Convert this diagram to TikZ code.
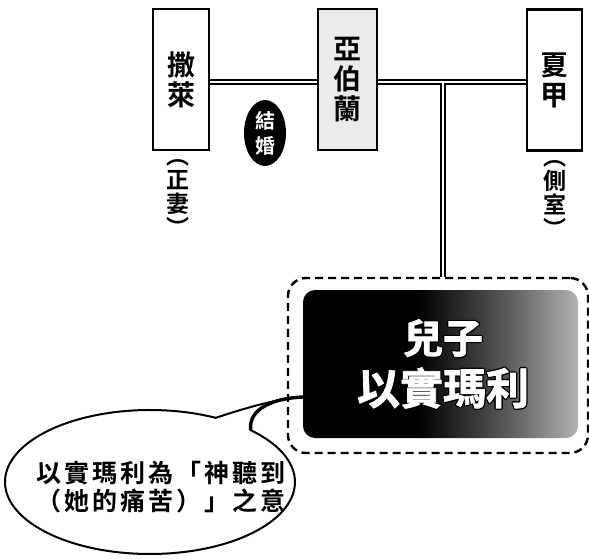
\documentclass[tikz,border=0pt]{standalone}
\usepackage{fontspec}
\setmainfont{Noto Sans CJK TC}[BoldFont={Noto Sans CJK TC Bold}]
\usetikzlibrary{shapes.geometric}
% white letters with a black rim
\newcommand\rimtext[1]{\rlap{\special{pdf:bcolor [0] [0]}\special{pdf:code 1 Tr 3.4 w 1 j}#1\special{pdf:code 0 Tr 1 w 0 j}\special{pdf:ecolor}}%
    \special{pdf:bcolor [1] [1]}\special{pdf:code 2 Tr 0.7 w}#1\special{pdf:code 0 Tr 1 w}\special{pdf:ecolor}}
\pgfdeclarehorizontalshading{sonshade}{100bp}{color(0bp)=(black); color(25bp)=(black); color(46bp)=(black); color(62bp)=(black!65); color(75bp)=(black!30); color(100bp)=(black!30)}
\begin{document}
\begin{tikzpicture}[x=1pt,y=1pt,
    person/.style={draw, line width=2.6pt, minimum height=141pt, align=center, inner sep=0pt,
        font=\bfseries\fontsize{28}{30}\selectfont},
    sidenote/.style={align=center, inner sep=0pt, font=\bfseries\fontsize{23}{24}\selectfont},
    sontext/.style={inner sep=0pt}]
    \useasboundingbox (0,0) rectangle (589,558);
    % speech bubble with its tail
    \coordinate (tip) at (303,161);
    \filldraw[fill=white, line width=2pt] (250.7,127.8) arc[start angle=46, end angle=-297, x radius=145, y radius=72]
        .. controls (245,150) and (280,160) .. (tip)
        .. controls (275,160) and (248,150) .. cycle;
    \draw[line width=3.4pt] (tip) .. controls (275,160) and (248,150) .. (250.7,127.8);
    \node[font=\bfseries\fontsize{25}{28}\selectfont\addfontfeatures{LetterSpace=12}, align=center] (meaning) at (161,71)
        {以實瑪利為「神聽到\\（她的痛苦）」之意};
    % the three people
    \node[person, minimum width=56pt] (sarai) at (181,478.5) {撒\\萊};
    \node[person, minimum width=59pt, fill=black!8] (abram) at (347.5,478.5) {亞\\伯\\蘭};
    \node[person, minimum width=55pt] (hagar) at (554.5,478) {夏\\甲};
    \node[sidenote] (wife) at (178,360) {︵\\正\\妻\\︶};
    \node[sidenote] (concubine) at (555,359) {︵\\側\\室\\︶};
    \node[ellipse, fill=black, minimum width=42pt, minimum height=66pt, inner sep=0pt, text=white,
        align=center, font=\bfseries\fontsize{20}{25}\selectfont] (marry) at (265,425) {結\\婚};
    % the son
    \node[draw, dash pattern=on 8pt off 5pt, line width=2.4pt, rounded corners=18pt,
        minimum width=300pt, minimum height=175pt] (son) at (438,192.5) {};
    \node[shading=sonshade, rounded corners=12pt, minimum width=275pt, minimum height=148pt,
        inner sep=0pt] (sonfill) at (440.5,194) {};
    \node[sontext, font=\bfseries\fontsize{40}{40}\selectfont] (sonword) at (443,220) {\rimtext{兒子}};
    \node[sontext, font=\bfseries\fontsize{43}{43}\selectfont] (ishmael) at (443,170) {\rimtext{以實瑪利}};
    % family lines
    \coordinate (mid) at (443,476);
    \foreach \lw/\col in {5.2pt/black,2.4pt/white}
        \draw[line width=\lw, draw=\col] (sarai.east |- mid) -- (abram.west |- mid)
            (abram.east |- mid) -- (hagar.west |- mid) (mid) -- (mid |- son.north);
\end{tikzpicture}
\end{document}
